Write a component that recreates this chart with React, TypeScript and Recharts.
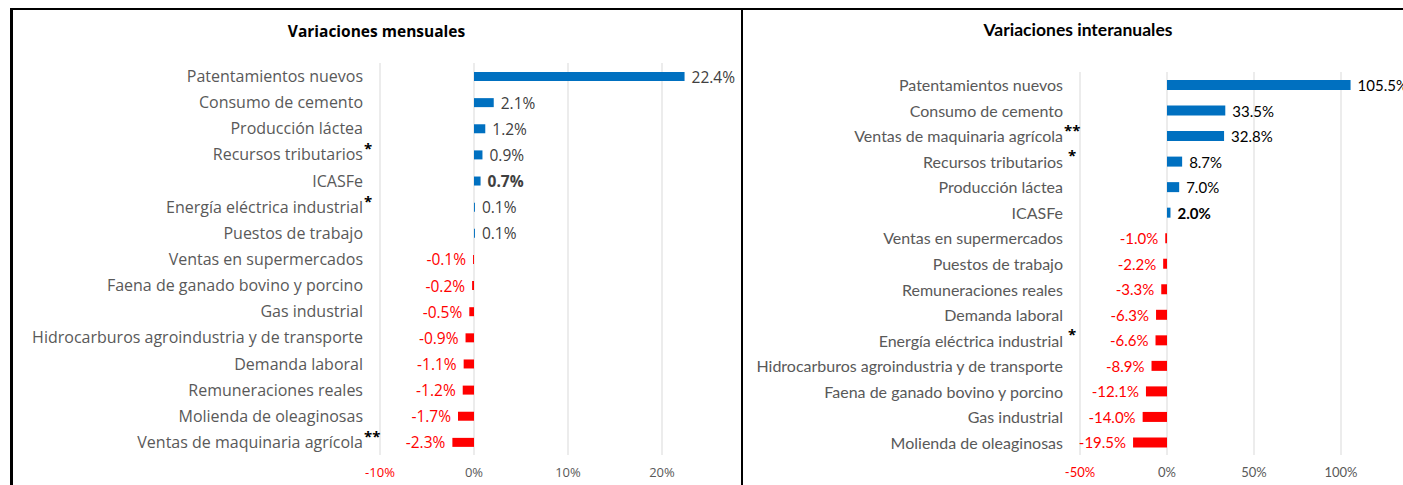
import { Bar, BarChart, CartesianGrid, Cell, LabelList, XAxis, YAxis } from 'recharts'

// Variaciones mensuales
const monthlyNames = [
  'Patentamientos nuevos',
  'Consumo de cemento',
  'Producción láctea',
  'Recursos tributarios',
  'ICASFe',
  'Energía eléctrica industrial',
  'Puestos de trabajo',
  'Ventas en supermercados',
  'Faena de ganado bovino y porcino',
  'Gas industrial',
  'Hidrocarburos agroindustria y de transporte',
  'Demanda laboral',
  'Remuneraciones reales',
  'Molienda de oleaginosas',
  'Ventas de maquinaria agrícola',
]
const monthlyMarks = ['', '', '', '*', '', '*', '', '', '', '', '', '', '', '', '**']
const monthlyValues = [22.4, 2.1, 1.2, 0.9, 0.7, 0.1, 0.1, -0.1, -0.2, -0.5, -0.9, -1.1, -1.2, -1.7, -2.3]
const monthlyTicks = [-10, 0, 10, 20]

// Variaciones interanuales
const yearlyNames = [
  'Patentamientos nuevos',
  'Consumo de cemento',
  'Ventas de maquinaria agrícola',
  'Recursos tributarios',
  'Producción láctea',
  'ICASFe',
  'Ventas en supermercados',
  'Puestos de trabajo',
  'Remuneraciones reales',
  'Demanda laboral',
  'Energía eléctrica industrial',
  'Hidrocarburos agroindustria y de transporte',
  'Faena de ganado bovino y porcino',
  'Gas industrial',
  'Molienda de oleaginosas',
]
const yearlyMarks = ['', '', '**', ' *', '', '', '', '', '', '', ' *', '', '', '', '']
const yearlyValues = [105.5, 33.5, 32.8, 8.7, 7.0, 2.0, -1.0, -2.2, -3.3, -6.3, -6.6, -8.9, -12.1, -14.0, -19.5]
const yearlyTicks = [-50, 0, 50, 100]

const HIGHLIGHT = 'ICASFe'
const BLUE = '#0070C0'
const RED = '#FF0000'

type PanelStyle = {
  font: string
  markFont: string
  catSize: number
  valueSize: number
  tickSize: number
  valueColor: string
  markRise: number
}

const makeCategoryTick = (names: string[], marks: string[], st: PanelStyle) =>
  function CategoryTick(props: any) {
    const { x, y, payload } = props
    const i = names.indexOf(payload.value)
    const mark = i >= 0 ? marks[i] : ''
    return (
      <g>
        <text
          x={x}
          y={y}
          textAnchor="end"
          dominantBaseline="central"
          fill="#595959"
          fontFamily={st.font}
          fontSize={st.catSize}
        >
          {payload.value}
        </text>
        {mark && (
          <text
            x={x + 1}
            y={y - st.markRise}
            textAnchor="start"
            dominantBaseline="central"
            fill="#000"
            fontFamily={st.markFont}
            fontSize={st.catSize - 1}
            fontWeight="bold"
            style={{ whiteSpace: 'pre' }}
          >
            {mark}
          </text>
        )}
      </g>
    )
  }

const makeValueTick = (st: PanelStyle) =>
  function ValueTick(props: any) {
    const { x, y, payload } = props
    return (
      <text
        x={x}
        y={y}
        textAnchor="middle"
        dominantBaseline="central"
        fill={payload.value < 0 ? RED : '#595959'}
        fontFamily={st.font}
        fontSize={st.tickSize}
      >
        {payload.value}%
      </text>
    )
  }

const makeValueLabel = (names: string[], st: PanelStyle) =>
  function ValueLabel(props: any) {
    const { x, y, width, height, value, index } = props
    const left = Math.min(x, x + width)
    const right = Math.max(x, x + width)
    const neg = value < 0
    return (
      <text
        x={neg ? left - 7 : right + 7}
        y={y + height / 2}
        textAnchor={neg ? 'end' : 'start'}
        dominantBaseline="central"
        fill={neg ? RED : st.valueColor}
        fontFamily={st.font}
        fontSize={st.valueSize}
        fontWeight={names[index] === HIGHLIGHT ? 'bold' : 'normal'}
      >
        {value.toFixed(1)}%
      </text>
    )
  }

function Panel({
  names,
  marks,
  values,
  ticks,
  domain,
  width,
  top,
  axisWidth,
  barSize,
  st,
}: {
  names: string[]
  marks: string[]
  values: number[]
  ticks: number[]
  domain: [number, number]
  width: number
  top: number
  axisWidth: number
  barSize: number
  st: PanelStyle
}) {
  const rows = names.map((name, i) => ({ name, value: values[i] }))
  return (
    <BarChart
      width={width}
      height={485}
      data={rows}
      layout="vertical"
      margin={{ top, right: 4, left: 0, bottom: 0 }}
      barCategoryGap={0}
    >
      <CartesianGrid horizontal={false} stroke="#D9D9D9" />
      <XAxis
        type="number"
        domain={domain}
        ticks={ticks}
        allowDataOverflow
        axisLine={false}
        tickLine={false}
        height={30}
        tickSize={0}
        tickMargin={17}
        tick={makeValueTick(st)}
      />
      <YAxis
        type="category"
        dataKey="name"
        width={axisWidth}
        axisLine={false}
        tickLine={false}
        tickSize={0}
        tickMargin={17}
        interval={0}
        tick={makeCategoryTick(names, marks, st)}
      />
      <Bar dataKey="value" barSize={barSize} isAnimationActive={false}>
        {rows.map((r) => (
          <Cell key={r.name} fill={r.value < 0 ? RED : BLUE} />
        ))}
        <LabelList dataKey="value" content={makeValueLabel(names, st)} />
      </Bar>
    </BarChart>
  )
}

const leftStyle: PanelStyle = {
  font: '"Open Sans", sans-serif',
  markFont: '"Open Sans", sans-serif',
  catSize: 16,
  valueSize: 15.5,
  tickSize: 13,
  valueColor: '#404040',
  markRise: 6,
}

const rightStyle: PanelStyle = {
  font: 'Lato, sans-serif',
  markFont: '"Open Sans", sans-serif',
  catSize: 16,
  valueSize: 15,
  tickSize: 13,
  valueColor: '#000',
  markRise: 6,
}

export default function App() {
  return (
    <div
      style={{
        position: 'fixed',
        left: 0,
        top: 0,
        width: 1403,
        height: 485,
        overflow: 'hidden',
        background: '#fff',
      }}
    >
      {/* panel frames */}
      <div
        style={{
          position: 'absolute',
          left: 10,
          top: 8,
          width: 728,
          height: 500,
          borderLeft: '3px solid #000',
          borderTop: '2px solid #000',
          borderRight: '2px solid #000',
        }}
      />
      <div
        style={{
          position: 'absolute',
          left: 741,
          top: 8,
          width: 700,
          height: 500,
          borderLeft: '2px solid #000',
          borderTop: '2px solid #000',
        }}
      />
      <div
        style={{
          position: 'absolute',
          left: 12,
          top: 20,
          width: 729,
          textAlign: 'center',
          fontFamily: leftStyle.font,
          fontWeight: 'bold',
          fontSize: 15.5,
          color: '#000',
        }}
      >
        Variaciones mensuales
      </div>
      <div
        style={{
          position: 'absolute',
          left: 743,
          top: 19,
          width: 670,
          textAlign: 'center',
          fontFamily: rightStyle.font,
          fontWeight: 'bold',
          fontSize: 17.5,
          color: '#000',
        }}
      >
        Variaciones interanuales
      </div>

      <div style={{ position: 'absolute', left: 0, top: 0, width: 741, height: 485, overflow: 'hidden' }}>
        <Panel
          names={monthlyNames}
          marks={monthlyMarks}
          values={monthlyValues}
          ticks={monthlyTicks}
          domain={[-10, 30]}
          width={760}
          top={63}
          axisWidth={380}
          barSize={9}
          st={leftStyle}
        />
      </div>
      <div style={{ position: 'absolute', left: 743, top: 0, width: 700, height: 485, overflow: 'hidden' }}>
        <Panel
          names={yearlyNames}
          marks={yearlyMarks}
          values={yearlyValues}
          ticks={yearlyTicks}
          domain={[-50, 150]}
          width={689}
          top={72}
          axisWidth={337}
          barSize={10}
          st={rightStyle}
        />
      </div>
    </div>
  )
}
